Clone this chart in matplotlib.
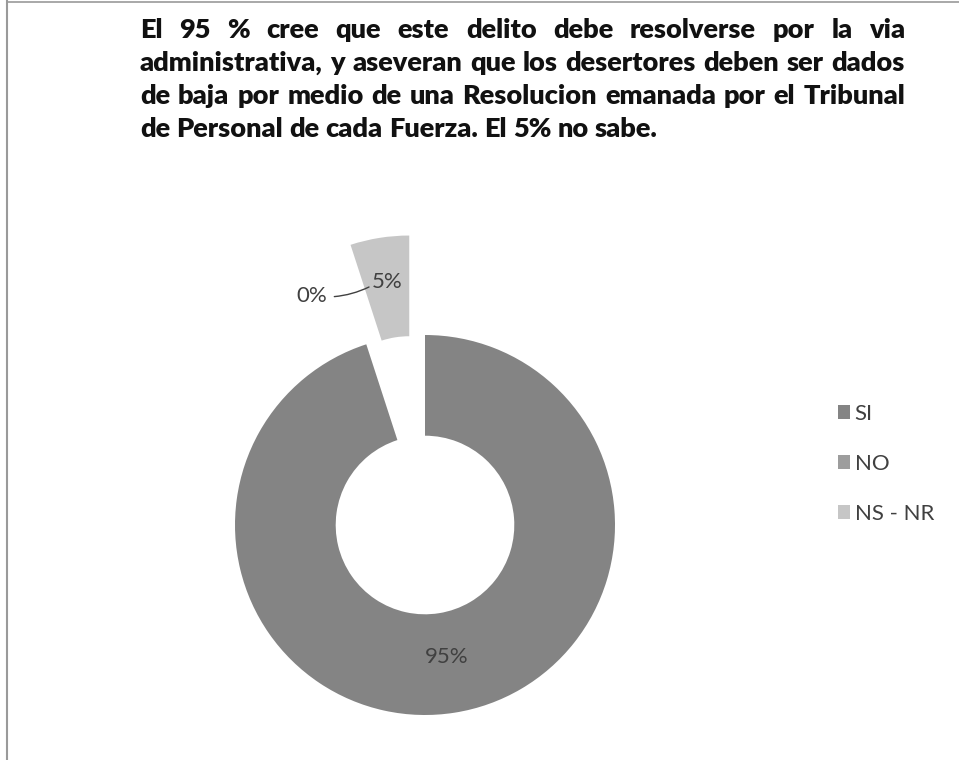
"""Doughnut chart: resolucion administrativa de desertores (SI / NO / NS - NR)."""

import matplotlib.pyplot as plt
import numpy as np
from matplotlib.lines import Line2D

CATEGORIES = ["SI", "NO", "NS - NR"]
PERCENTS = [95, 0, 5]
COLORS = ["#848484", "#9d9d9d", "#c6c6c6"]
EXPLODE = [0.0, 0.0, 0.53]

TITLE_LINES = [
    "El 95 % cree que este delito debe resolverse por la via",
    "administrativa,  y aseveran que los desertores deben ser dados",
    "de baja por medio de una Resolucion emanada por el Tribunal",
    "de Personal de cada Fuerza. El 5% no sabe.",
]

W, H = 959, 760
FONT = "Lato"
TXT = "#404040"

fig = plt.figure(figsize=(W / 100, H / 100), dpi=100)
ax = fig.add_axes([0, 0, 1, 1])

cx, cy, R = 425, H - 525, 190
wedges, _ = ax.pie(PERCENTS, colors=COLORS,
                   explode=[e * R for e in EXPLODE], startangle=90,
                   counterclock=False, center=(cx, cy), radius=R,
                   wedgeprops=dict(width=0.53 * R, linewidth=0))
ax.set_xlim(0, W)
ax.set_ylim(0, H)
ax.set_aspect("equal")
ax.axis("off")

# data labels at the middle of each ring segment
ring_mid = R - 0.53 * R / 2
for w, pct in zip(wedges, PERCENTS):
    if pct == 0:
        continue
    ang = np.deg2rad((w.theta1 + w.theta2) / 2)
    x = w.center[0] + ring_mid * np.cos(ang)
    y = w.center[1] + ring_mid * np.sin(ang) + 6
    ax.text(x, y, f"{pct}%", ha="center", va="center", fontsize=16,
            family=FONT, color=TXT)

# the 0% label sits off to the left with a leader line
ax.annotate("0%", xy=(369, H - 287), xytext=(312, H - 296),
            ha="center", va="center", fontsize=16, family=FONT, color=TXT,
            arrowprops=dict(arrowstyle="-", color="#404040", lw=1,
                            shrinkA=3, shrinkB=0,
                            connectionstyle="arc3,rad=0.15"))

ax.legend(wedges, CATEGORIES, loc="upper left",
          bbox_to_anchor=(818 / W, 1 - 384 / H), bbox_transform=fig.transFigure,
          frameon=False, handlelength=0.55, handleheight=0.55,
          handletextpad=0.2, labelspacing=1.35,
          prop=dict(family=FONT, size=16), labelcolor=TXT)

# justified bold title, words placed one by one
renderer = fig.canvas.get_renderer()
x0, x1 = 140, 905
size = 17
probe = fig.text(0, 0, TITLE_LINES[1], fontsize=size, family=FONT,
                 weight="bold")
natural = probe.get_window_extent(renderer).width
probe.remove()
size = size * (x1 - x0) / natural * 0.985

for i, line in enumerate(TITLE_LINES):
    yb = 38 + 33 * i
    words = line.split()
    texts = [fig.text(0, 1 - yb / H, wd, fontsize=size, family=FONT,
                      weight="heavy", color="#111111", va="baseline")
             for wd in words]
    widths = [t.get_window_extent(renderer).width for t in texts]
    if i < len(TITLE_LINES) - 1:
        gap = (x1 - x0 - sum(widths)) / (len(words) - 1)
    else:
        sp = fig.text(0, 0, "a a", fontsize=size, family=FONT, weight="heavy")
        sp2 = fig.text(0, 0, "aa", fontsize=size, family=FONT, weight="heavy")
        gap = (sp.get_window_extent(renderer).width
               - sp2.get_window_extent(renderer).width)
        sp.remove()
        sp2.remove()
    x = x0
    for t, wdt in zip(texts, widths):
        t.set_x(x / W)
        x += wdt + gap

# thin frame on the left and top edges of the original image
fig.add_artist(Line2D([7 / W, 7 / W], [0, 1 - 1 / H], color="#9a9a9a", lw=1.5))
fig.add_artist(Line2D([7 / W, 1], [1 - 1.5 / H, 1 - 1.5 / H], color="#9a9a9a",
                      lw=1.2))

fig.savefig("out.png", dpi=100)
